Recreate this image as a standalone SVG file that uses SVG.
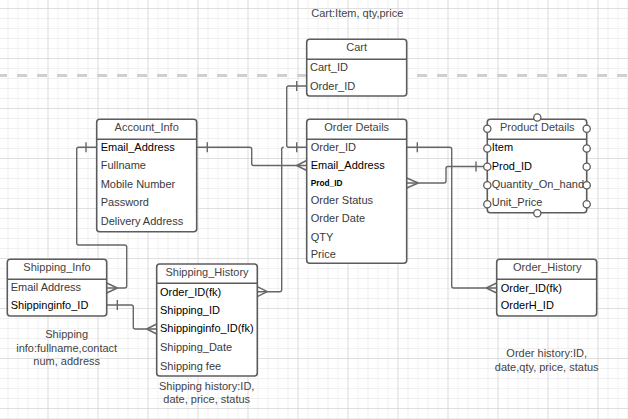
<svg xmlns="http://www.w3.org/2000/svg" width="628" height="419" viewBox="0 0 628 419">
<defs>
<pattern id="minor" x="7.5" y="8" width="10" height="10" patternUnits="userSpaceOnUse">
<path d="M0 0H10M0 0V10" fill="none" stroke="#e4e4e4" stroke-width="1"/>
</pattern>
<pattern id="major" x="47.5" y="8" width="50" height="50" patternUnits="userSpaceOnUse">
<path d="M0 0H50M0 0V50" fill="none" stroke="#cdcdcd" stroke-width="1"/>
</pattern>
<style>
.box{fill:#fff;stroke:#5c5c5c;stroke-width:1.6}
.div{stroke:#5c5c5c;stroke-width:1.6}
.t{font-family:"Liberation Sans",Arial,sans-serif;font-size:11px;fill:#3a3a3a}
.k{fill:#000}
.h{text-anchor:middle;fill:#444}
.c{font-family:"Liberation Sans",Arial,sans-serif;font-size:11px;fill:#444;text-anchor:middle}
.p{font-family:"Liberation Sans",Arial,sans-serif;font-size:8.3px;font-weight:bold;fill:#000}
.ln{fill:none;stroke:#666;stroke-width:1.4;stroke-linejoin:round}
.hd{fill:#fff;stroke:#5c5c5c;stroke-width:1.3}
</style>
</defs>
<rect width="628" height="419" fill="#fff"/>
<rect width="628" height="419" fill="url(#minor)"/>
<rect width="628" height="419" fill="url(#major)"/>
<line x1="-3" y1="75.5" x2="628" y2="75.5" stroke="#cfcfcf" stroke-width="3" stroke-dasharray="10 10"/>

<g id="connectors" class="ln">
<path d="M196.7 147.3H249.7Q251.7 147.3 251.7 149.3V163.5Q251.7 165.5 253.7 165.5H306.7"/>
<path d="M207.3 142.3V152.3"/>
<path d="M296.7 165.5L306.7 160.5M296.7 165.5L306.7 170.5"/>
<path d="M306.7 86H288.7Q286.7 86 286.7 88V145.3Q286.7 147.3 288.7 147.3H306.7"/>
<path d="M296.7 81V91M296.7 142.3V152.3"/>
<path d="M257.3 291.7H279.7Q281.7 291.7 281.7 289.7V149.3Q281.7 147.3 283.7 147.3"/>
<path d="M267.3 291.7L257.3 286.7M267.3 291.7L257.3 296.7"/>
<path d="M96.7 147.3H78.7Q76.7 147.3 76.7 149.3V243Q76.7 245 78.7 245H124.7Q126.7 245 126.7 247V286Q126.7 288 124.7 288H106.7"/>
<path d="M86 142.3V152.3"/>
<path d="M117.3 288L106.7 283M117.3 288L106.7 293"/>
<path d="M106.7 305H131.3Q133.3 305 133.3 307V327Q133.3 329 135.3 329H156.7"/>
<path d="M117.3 300V310"/>
<path d="M146.7 329L156.7 324M146.7 329L156.7 334"/>
<path d="M406.7 147.3H449.7Q451.7 147.3 451.7 149.3V286Q451.7 288 453.7 288H496.7"/>
<path d="M417.3 142.3V152.3"/>
<path d="M486.3 288L496.7 283M486.3 288L496.7 293"/>
<path d="M406.7 183H444Q446 183 446 181V168.5Q446 166.5 448 166.5H487.3"/>
<path d="M418.3 183L406.7 178M418.3 183L406.7 188"/>
<path d="M476 161.5V171.5"/>
</g>

<text class="c" x="357.3" y="16.6">Cart:Item, qty,price</text>

<g id="cart">
<rect class="box" x="306.7" y="39.3" width="100" height="56.7" rx="3"/>
<line class="div" x1="306.7" y1="59.3" x2="406.7" y2="59.3"/>
<text class="t h" x="356.7" y="50.6">Cart</text>
<text class="t" x="310" y="71.2">Cart_ID</text>
<text class="t" x="310" y="89.6">Order_ID</text>
</g>

<g id="account_info">
<rect class="box" x="96.7" y="119.3" width="100" height="112.4" rx="3"/>
<line class="div" x1="96.7" y1="139.3" x2="196.7" y2="139.3"/>
<text class="t h" x="146.7" y="130.6">Account_Info</text>
<text class="t k" x="100.7" y="151.2">Email_Address</text>
<text class="t" x="100.7" y="168.9">Fullname</text>
<text class="t" x="100.7" y="187.9">Mobile Number</text>
<text class="t" x="100.7" y="205.9">Password</text>
<text class="t" x="100.7" y="224.9">Delivery Address</text>
</g>

<g id="order_details">
<rect class="box" x="306.7" y="119.3" width="100" height="144" rx="3"/>
<line class="div" x1="306.7" y1="139.3" x2="406.7" y2="139.3"/>
<text class="t h" x="356.7" y="130.6">Order Details</text>
<text class="t" x="310.7" y="151.2">Order_ID</text>
<text class="t k" x="310.7" y="168.9">Email_Address</text>
<text class="p" x="310.7" y="185.7">Prod_ID</text>
<text class="t" x="310.7" y="203.9">Order Status</text>
<text class="t" x="310.7" y="222.2">Order Date</text>
<text class="t" x="310.7" y="240.6">QTY</text>
<text class="t" x="310.7" y="257.9">Price</text>
</g>

<g id="product_details">
<rect class="box" x="487.3" y="119.3" width="99.4" height="93.4" rx="3"/>
<line class="div" x1="487.3" y1="139.3" x2="586.7" y2="139.3"/>
<text class="t h" x="537.3" y="130.6">Product Details</text>
<text class="t k" x="491.7" y="151.2">Item</text>
<text class="t k" x="491.7" y="169.9">Prod_ID</text>
<text class="t" x="491.7" y="187.9">Quantity_On_hand</text>
<text class="t" x="491.7" y="205.9">Unit_Price</text>
<circle class="hd" cx="537.3" cy="117.5" r="3.6"/>
<circle class="hd" cx="537.3" cy="213.3" r="3.6"/>
<circle class="hd" cx="487.3" cy="128.8" r="3.6"/>
<circle class="hd" cx="487.3" cy="148.5" r="3.6"/>
<circle class="hd" cx="487.3" cy="166.7" r="3.6"/>
<circle class="hd" cx="487.3" cy="185.3" r="3.6"/>
<circle class="hd" cx="487.3" cy="204.2" r="3.6"/>
<circle class="hd" cx="586.7" cy="128.8" r="3.6"/>
<circle class="hd" cx="586.7" cy="148.5" r="3.6"/>
<circle class="hd" cx="586.7" cy="166.7" r="3.6"/>
<circle class="hd" cx="586.7" cy="185.3" r="3.6"/>
<circle class="hd" cx="586.7" cy="204.2" r="3.6"/>
</g>

<g id="shipping_info">
<rect class="box" x="7.3" y="259.3" width="99.4" height="56.7" rx="3"/>
<line class="div" x1="7.3" y1="279.3" x2="106.7" y2="279.3"/>
<text class="t h" x="57" y="270.6">Shipping_Info</text>
<text class="t" x="10.7" y="291.2">Email Address</text>
<text class="t k" x="10.7" y="308.9">Shippinginfo_ID</text>
</g>
<text class="c" x="66.7" y="338.2">Shipping</text>
<text class="c" x="66.7" y="351.6">info:fullname,contact</text>
<text class="c" x="66.7" y="364.6">num, address</text>

<g id="shipping_history">
<rect class="box" x="156.7" y="264" width="100.6" height="112" rx="3"/>
<line class="div" x1="156.7" y1="283.3" x2="257.3" y2="283.3"/>
<text class="t h" x="207" y="276.2">Shipping_History</text>
<text class="t k" x="160" y="295.6">Order_ID(fk)</text>
<text class="t k" x="160" y="314.2">Shipping_ID</text>
<text class="t k" x="160" y="332.2">Shippinginfo_ID(fk)</text>
<text class="t" x="160" y="351.2">Shipping_Date</text>
<text class="t" x="160" y="369.6">Shipping fee</text>
</g>
<text class="c" x="206.7" y="389.9">Shipping history:ID,</text>
<text class="c" x="206.7" y="402.9">date, price, status</text>

<g id="order_history">
<rect class="box" x="496.7" y="259.3" width="100" height="56.7" rx="3"/>
<line class="div" x1="496.7" y1="279.3" x2="596.7" y2="279.3"/>
<text class="t h" x="547.3" y="271.2">Order_History</text>
<text class="t k" x="500.7" y="291.6">Order_ID(fk)</text>
<text class="t k" x="500.7" y="308.9">OrderH_ID</text>
</g>
<text class="c" x="546.7" y="357.2">Order history:ID,</text>
<text class="c" x="546.7" y="370.6">date,qty, price, status</text>
</svg>
